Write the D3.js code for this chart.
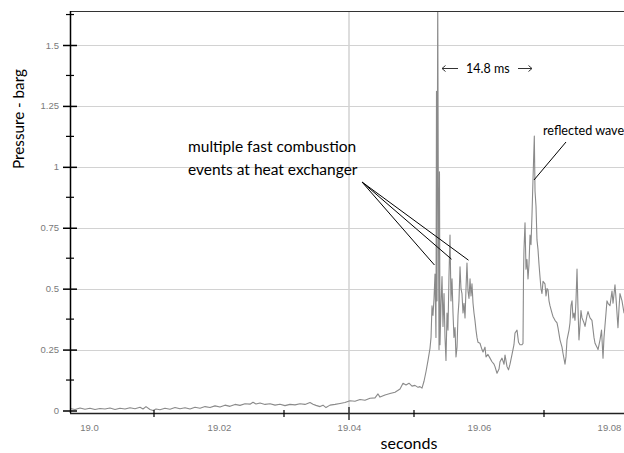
<!DOCTYPE html>
<html><head><meta charset="utf-8">
<script src="https://cdn.jsdelivr.net/npm/d3@7"></script>
<style>html,body{margin:0;padding:0;background:#fff;overflow:hidden}</style>
</head><body>
<svg id="c" width="624" height="453"></svg>
<script>
// ---- data ----
const timeS = [18.99708,18.99785,18.99862,18.99938,19.00015,19.00092,19.00169,19.00246,19.00323,19.00400,
19.00477,19.00554,19.00631,19.00708,19.00785,19.00831,19.00877,19.00938,19.00985,19.01031,
19.01092,19.01169,19.01246,19.01323,19.01400,19.01477,19.01554,19.01631,19.01708,19.01785,
19.01862,19.01938,19.02015,19.02092,19.02169,19.02246,19.02323,19.02400,19.02477,19.02523,
19.02569,19.02631,19.02708,19.02785,19.02862,19.02938,19.03015,19.03092,19.03169,19.03246,
19.03323,19.03400,19.03446,19.03492,19.03554,19.03600,19.03646,19.03708,19.03785,19.03862,
19.03938,19.04015,19.04092,19.04169,19.04246,19.04323,19.04400,19.04446,19.04477,19.04554,
19.04631,19.04708,19.04785,19.04831,19.04877,19.04923,19.04969,19.05015,19.05062,19.05092,
19.05123,19.05154,19.05185,19.05215,19.05246,19.05262,19.05277,19.05292,19.05308,19.05323,
19.05338,19.05346,19.05354,19.05365,19.05374,19.05385,19.05392,19.05400,19.05415,19.05431,
19.05446,19.05462,19.05477,19.05492,19.05508,19.05523,19.05538,19.05554,19.05569,19.05585,
19.05600,19.05615,19.05631,19.05646,19.05662,19.05677,19.05692,19.05708,19.05723,19.05738,
19.05754,19.05769,19.05785,19.05800,19.05815,19.05831,19.05846,19.05862,19.05877,19.05892,
19.05908,19.05923,19.05938,19.05954,19.05969,19.05985,19.06015,19.06046,19.06062,19.06092,
19.06108,19.06138,19.06169,19.06200,19.06231,19.06246,19.06277,19.06308,19.06323,19.06354,
19.06385,19.06400,19.06431,19.06454,19.06477,19.06508,19.06538,19.06554,19.06585,19.06608,
19.06631,19.06662,19.06677,19.06685,19.06692,19.06708,19.06723,19.06738,19.06754,19.06769,
19.06785,19.06800,19.06815,19.06831,19.06851,19.06862,19.06877,19.06892,19.06908,19.06923,
19.06938,19.06954,19.06969,19.06985,19.07015,19.07031,19.07046,19.07062,19.07077,19.07092,
19.07123,19.07138,19.07169,19.07200,19.07215,19.07246,19.07277,19.07292,19.07323,19.07338,
19.07354,19.07385,19.07400,19.07415,19.07431,19.07446,19.07462,19.07477,19.07492,19.07508,
19.07523,19.07538,19.07554,19.07569,19.07585,19.07615,19.07631,19.07662,19.07677,19.07708,
19.07738,19.07769,19.07785,19.07815,19.07831,19.07862,19.07885,19.07908,19.07923,19.07954,
19.07969,19.07985,19.08015,19.08046,19.08062,19.08092,19.08108,19.08138,19.08154,19.08169,
19.08200,19.08231,19.08262];
const pressure = [0.008,0.004,0.010,0.005,0.009,0.004,0.008,0.006,0.010,0.004,
0.009,0.006,0.011,0.007,0.013,0.006,0.016,0.004,0.000,0.006,
0.003,0.009,0.005,0.012,0.007,0.011,0.006,0.013,0.009,0.016,
0.012,0.019,0.014,0.022,0.017,0.025,0.021,0.028,0.026,0.034,
0.027,0.031,0.025,0.028,0.022,0.026,0.020,0.025,0.023,0.028,
0.025,0.033,0.026,0.021,0.016,0.022,0.012,0.022,0.025,0.029,
0.033,0.040,0.038,0.045,0.042,0.050,0.052,0.068,0.055,0.064,
0.070,0.075,0.088,0.112,0.105,0.112,0.100,0.103,0.095,0.098,
0.092,0.120,0.160,0.205,0.255,0.300,0.430,0.390,0.460,0.560,
0.300,1.310,0.450,1.700,0.920,0.250,0.980,0.270,0.430,0.550,
0.345,0.480,0.300,0.205,0.400,0.330,0.550,0.720,0.450,0.540,
0.400,0.300,0.340,0.220,0.260,0.390,0.450,0.590,0.500,0.480,
0.400,0.440,0.380,0.500,0.605,0.490,0.460,0.540,0.470,0.520,
0.440,0.400,0.370,0.330,0.300,0.280,0.276,0.250,0.240,0.260,
0.220,0.230,0.215,0.200,0.190,0.180,0.153,0.170,0.200,0.215,
0.190,0.228,0.180,0.167,0.190,0.230,0.270,0.318,0.330,0.280,
0.270,0.270,0.275,0.560,0.660,0.770,0.580,0.620,0.540,0.600,
0.720,0.680,0.800,0.950,1.126,0.900,0.838,0.700,0.660,0.600,
0.550,0.500,0.480,0.530,0.520,0.470,0.500,0.495,0.450,0.430,
0.400,0.386,0.370,0.360,0.340,0.290,0.260,0.235,0.190,0.220,
0.290,0.330,0.360,0.430,0.450,0.380,0.400,0.370,0.450,0.580,
0.420,0.290,0.350,0.410,0.380,0.360,0.345,0.390,0.406,0.380,
0.370,0.300,0.276,0.260,0.250,0.290,0.330,0.215,0.300,0.400,
0.450,0.440,0.430,0.490,0.440,0.516,0.460,0.340,0.420,0.480,
0.450,0.400,0.420];
const yMajorTicks = [0, 0.25, 0.5, 0.75, 1, 1.25, 1.5];
const yMajorLabels = ["0", "0.25", "0.5", "0.75", "1", "1.25", "1.5"];
const yMinorTicks = [0.125, 0.375, 0.625, 0.875, 1.125, 1.375, 1.625];
const xLabelValues = [19.00, 19.02, 19.04, 19.06, 19.08];
const xLabels = ["19.0", "19.02", "19.04", "19.06", "19.08"];
const xTickMarks = [19.01, 19.03, 19.05, 19.07];
const xGridValues = [19.04];
const yTitle = "Pressure - barg";
const xTitle = "seconds";
const noteEvents = ["multiple fast combustion", "events at heat exchanger"];
const noteInterval = "14.8 ms";
const noteReflected = "reflected wave";

// ---- layout ----
const L = 70, R = 624, T = 11, B = 413;
const svg = d3.select("#c");
const x = d3.scaleLinear().domain([19.0, 19.08]).range([89, 609]);
const y = d3.scaleLinear().domain([0, 1.5]).range([410.5, 45]);
const tickFont = "'Liberation Sans', Arial, sans-serif";
const textFont = "Lato, 'Open Sans', sans-serif";

// horizontal gridlines
svg.append("g").selectAll("line").data(yMajorTicks.filter(v => v > 0)).join("line")
  .attr("x1", L).attr("x2", R)
  .attr("y1", d => Math.round(y(d)) + 0.5).attr("y2", d => Math.round(y(d)) + 0.5)
  .attr("stroke", "#d2d2d2").attr("stroke-width", 1.2);
// vertical gridline
svg.append("g").selectAll("line").data(xGridValues).join("line")
  .attr("x1", d => x(d)).attr("x2", d => x(d)).attr("y1", T).attr("y2", B)
  .attr("stroke", "#d2d2d2").attr("stroke-width", 1.5);

// trace
svg.append("clipPath").attr("id", "clip").append("rect")
  .attr("x", L).attr("y", T).attr("width", R - L).attr("height", B - T);
const pts = timeS.map((t, i) => [t, pressure[i]]);
svg.append("path").datum(pts)
  .attr("clip-path", "url(#clip)")
  .attr("fill", "none").attr("stroke", "#8a8a8a").attr("stroke-width", 1.1)
  .attr("stroke-linejoin", "round")
  .attr("d", d3.line().x(d => x(d[0])).y(d => y(d[1])));

// top border
svg.append("line").attr("x1", L).attr("x2", R).attr("y1", T + 0.5).attr("y2", T + 0.5)
  .attr("stroke", "#333").attr("stroke-width", 1);

// y axis
const yAxis = svg.append("g").attr("transform", `translate(${L},0)`)
  .call(d3.axisLeft(y).tickValues(yMajorTicks).tickSize(7).tickPadding(4)
    .tickFormat((d, i) => yMajorLabels[i]));
yAxis.select(".domain").attr("d", `M0.5,${T}V${B}`).attr("stroke", "#000").attr("stroke-width", 1.5);
yAxis.selectAll(".tick line").attr("x1", 7).attr("x2", -7).attr("stroke", "#000").attr("stroke-width", 1.5);
yAxis.selectAll(".tick text").attr("fill", "#7a7a7a").style("font-family", tickFont).style("font-size", "9.5px");
svg.append("g").selectAll("line").data(yMinorTicks).join("line")
  .attr("x1", L - 4).attr("x2", L + 4)
  .attr("y1", d => y(d)).attr("y2", d => y(d))
  .attr("stroke", "#000").attr("stroke-width", 1.2);

// x axis
const xAxis = svg.append("g").attr("transform", `translate(0,${B})`)
  .call(d3.axisBottom(x).tickValues(xLabelValues).tickSize(0).tickPadding(11)
    .tickFormat((d, i) => xLabels[i]));
xAxis.select(".domain").attr("d", `M${L},0.5H${R}`).attr("stroke", "#222").attr("stroke-width", 1.5);
xAxis.selectAll(".tick text").attr("fill", "#7a7a7a").style("font-family", tickFont).style("font-size", "9.5px");
svg.append("g").selectAll("line").data(xTickMarks).join("line")
  .attr("x1", d => x(d)).attr("x2", d => x(d)).attr("y1", B - 3).attr("y2", B + 4)
  .attr("stroke", "#000").attr("stroke-width", 1.2);
svg.append("g").selectAll("line").data(xGridValues).join("line")
  .attr("x1", d => x(d)).attr("x2", d => x(d)).attr("y1", B - 6).attr("y2", B + 7)
  .attr("stroke", "#333").attr("stroke-width", 1.5);

// titles
svg.append("text").attr("transform", "translate(24,119) rotate(-90)")
  .attr("text-anchor", "middle").style("font-family", textFont).style("font-size", "15.2px")
  .attr("fill", "#000").text(yTitle);
svg.append("text").attr("x", 409).attr("y", 449).attr("text-anchor", "middle")
  .style("font-family", textFont).style("font-size", "16px").attr("fill", "#000").text(xTitle);

// annotations
svg.append("g").selectAll("text").data(noteEvents).join("text")
  .attr("x", 188).attr("y", (d, i) => 152 + i * 23)
  .style("font-family", textFont).style("font-size", "15.5px").attr("fill", "#000").text(d => d);
const evTargets = [[19.05315, 0.597], [19.05577, 0.621], [19.05838, 0.617]];
svg.append("g").selectAll("line").data(evTargets).join("line")
  .attr("x1", 362).attr("y1", 182)
  .attr("x2", d => x(d[0])).attr("y2", d => y(d[1]))
  .attr("stroke", "#000").attr("stroke-width", 1);

svg.append("text").attr("x", 466).attr("y", 73)
  .style("font-family", textFont).style("font-size", "12.5px").attr("fill", "#000").text(noteInterval);
const arr = svg.append("g").attr("stroke", "#333").attr("fill", "none").attr("stroke-width", 1);
arr.append("path").attr("d", "M442,68.5H458 M445.5,65.5L442,68.5L445.5,71.5");
arr.append("path").attr("d", "M518,68.5H532 M528.5,65.5L532,68.5L528.5,71.5");

svg.append("text").attr("x", 543).attr("y", 135)
  .style("font-family", textFont).style("font-size", "12.6px").attr("fill", "#000").text(noteReflected);
svg.append("line").attr("x1", 566).attr("y1", 142).attr("x2", x(19.06846)).attr("y2", y(0.946))
  .attr("stroke", "#000").attr("stroke-width", 1);
</script>
</body></html>
